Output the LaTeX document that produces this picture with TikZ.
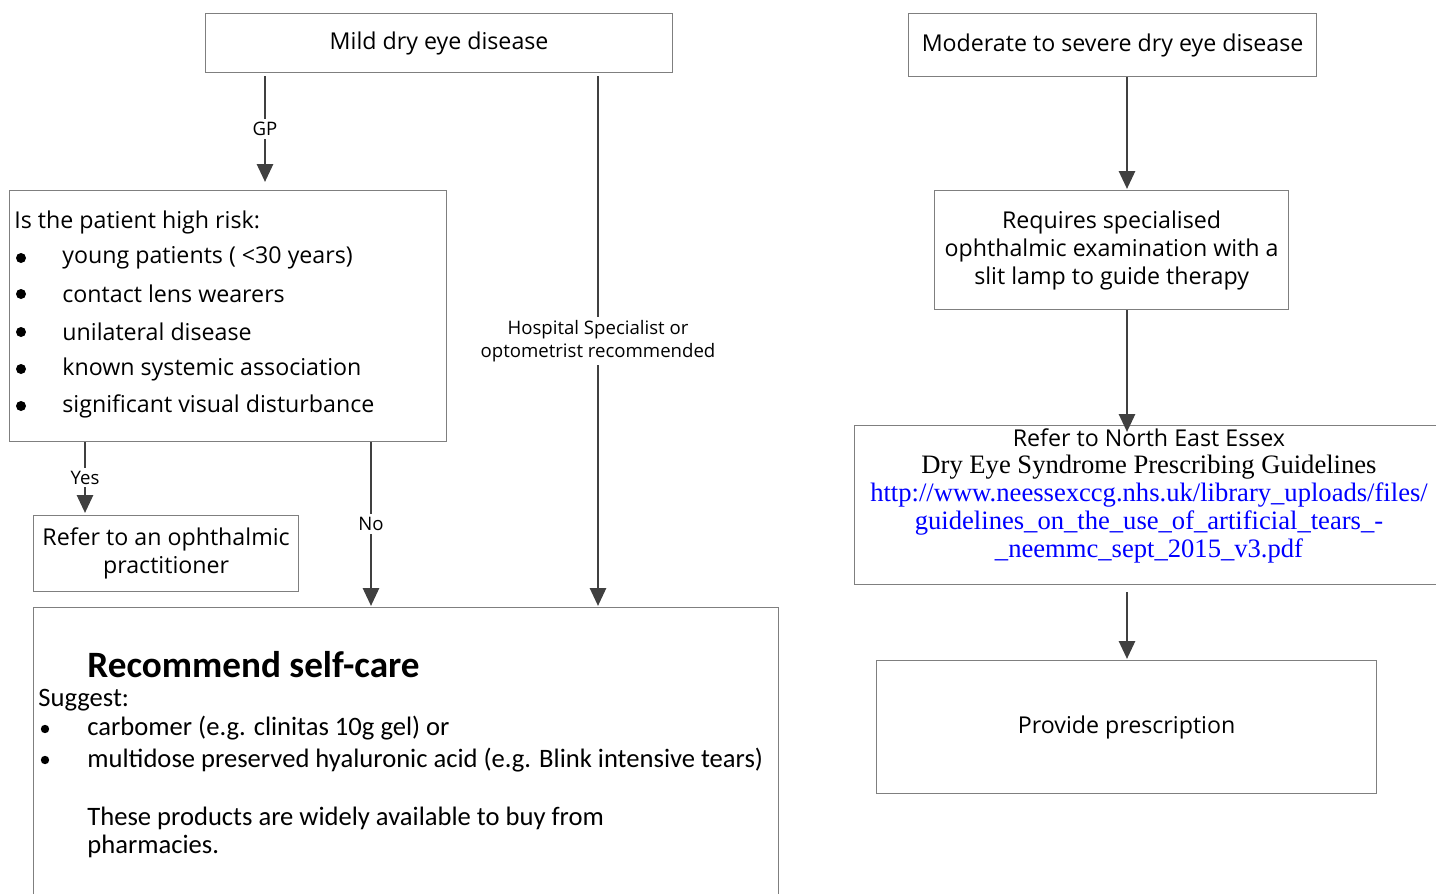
\documentclass[tikz,border=0pt]{standalone}
\usepackage{fontspec}
\setmainfont{Open Sans}
\newfontfamily\calfont{Carlito}
\newfontfamily\serfont{Liberation Serif}
\usetikzlibrary{arrows.meta,calc}
\definecolor{boxgray}{HTML}{7F7F7F}
\definecolor{arrgray}{HTML}{404040}
\definecolor{linkblue}{HTML}{0000FF}
\begin{document}
\begin{tikzpicture}[x=0.5pt,y=-0.5pt,
  box/.style={draw=boxgray,line width=0.6pt,inner sep=0pt,anchor=north west,align=center,font=\fontsize{11.6}{14}\selectfont},
  arr/.style={draw=arrgray,line width=1.4pt,-{Triangle[length=9pt,width=8pt]}},
  lbl/.style={fill=white,inner sep=1.5pt,align=center,font=\fontsize{9.3}{11.5}\selectfont},
  txt/.style={inner sep=0pt,anchor=west,font=\fontsize{11.6}{14}\selectfont},
  bul/.style={circle,fill=black,inner sep=0pt,minimum size=5pt},
  cbul/.style={circle,fill=black,inner sep=0pt,minimum size=4.2pt},
  ctxt/.style={inner sep=0pt,anchor=west,font=\calfont\fontsize{13.3}{15}\selectfont},
  stxt/.style={inner sep=0pt,font=\serfont\fontsize{13.3}{15}\selectfont}
]
\useasboundingbox (0,0) rectangle (1436,894);
\fill[white] (0,0) rectangle (1436,894);

% boxes
\node[box,minimum width=233.5pt,minimum height=29.5pt] (mild) at (205,13) {\raisebox{-1pt}{Mild dry eye disease}};
\node[box,minimum width=204pt,minimum height=31.5pt] (mod) at (908,13) {\raisebox{-1pt}{Moderate to severe dry eye disease}};
\node[box,minimum width=218.5pt,minimum height=125.5pt] (hr) at (9,190) {};
\node[box,minimum width=132.5pt,minimum height=38pt] (refer) at (33,515) {Refer to an ophthalmic\\practitioner};
\node[box,minimum width=372.5pt,minimum height=146.5pt] (self) at (33,607) {};
\node[box,minimum width=177pt,minimum height=59.5pt] (spec) at (934,190) {Requires specialised\\ophthalmic examination with a\\slit lamp to guide therapy};
\node[box,minimum width=295.5pt,minimum height=79.5pt] (essex) at (854,425) {};
\node[box,minimum width=250pt,minimum height=66.5pt] (presc) at (876,660) {\raisebox{-1pt}{Provide prescription}};

% high risk text
\node[txt] (hrq) at (14,222) {Is the patient high risk:};
\foreach \y/\t [count=\i] in {258/young patients ( <30 years),294/contact lens wearers,332/unilateral disease,369/known systemic association,406/significant visual disturbance}{
  \node[bul] (hrb\i) at (21,\y) {};
  \node[txt] (hrt\i) at (62,\y) {\t};
}

% self-care text
\node[inner sep=0pt,anchor=west,font=\calfont\bfseries\fontsize{18.6}{22}\selectfont] (selft) at (87,665) {Recommend self-care};
\node[ctxt] (sugg) at (38,700) {Suggest:};
\node[cbul] (sb1) at (45,729) {};
\node[ctxt] (st1) at (87,728) {carbomer (e.g. clinitas 10g gel) or};
\node[cbul] (sb2) at (45,760) {};
\node[ctxt] (st2) at (87,760) {multidose preserved hyaluronic acid (e.g. Blink intensive tears)};
\node[ctxt] (st3) at (87,818) {These products are widely available to buy from};
\node[ctxt] (st4) at (87,846) {pharmacies.};

% essex text
\node[inner sep=0pt,font=\fontsize{11.6}{14}\selectfont] (es1) at (1149,438) {Refer to North East Essex};
\node[stxt] (es2) at (1149,467) {Dry Eye Syndrome Prescribing Guidelines};
\node[stxt,text=linkblue] (es3) at (1149,495) {http://www.neessexccg.nhs.uk/library\_uploads/files/};
\node[stxt,text=linkblue] (es4) at (1149,523) {guidelines\_on\_the\_use\_of\_artificial\_tears\_-};
\node[stxt,text=linkblue] (es5) at (1149,551) {\_neemmc\_sept\_2015\_v3.pdf};

% connectors
\draw[arr] ($(mild.south west)+(60,3)$) -- ($(hr.north west)+(256,-8)$) node[lbl,midway] {GP};
\draw[arr] ($(mild.south west)+(393,3)$) -- ($(self.north west)+(565,-1)$) node[lbl,midway] {Hospital Specialist or\\optometrist recommended};
\draw[arr] ($(hr.south west)+(76,0)$) -- ($(refer.north west)+(52,-2)$) node[lbl,midway] {Yes};
\draw[arr] ($(hr.south west)+(362,0)$) -- ($(self.north west)+(338,-1)$) node[lbl,midway] {No};
\draw[arr] ($(mod.south west)+(219,0)$) -- ($(spec.north west)+(193,-1)$);
\draw[arr] ($(spec.south west)+(193,0)$) -- ($(essex.north west)+(273,7)$);
\draw[arr] ($(essex.south west)+(273,7)$) -- ($(presc.north west)+(251,-1)$);
\end{tikzpicture}
\end{document}
